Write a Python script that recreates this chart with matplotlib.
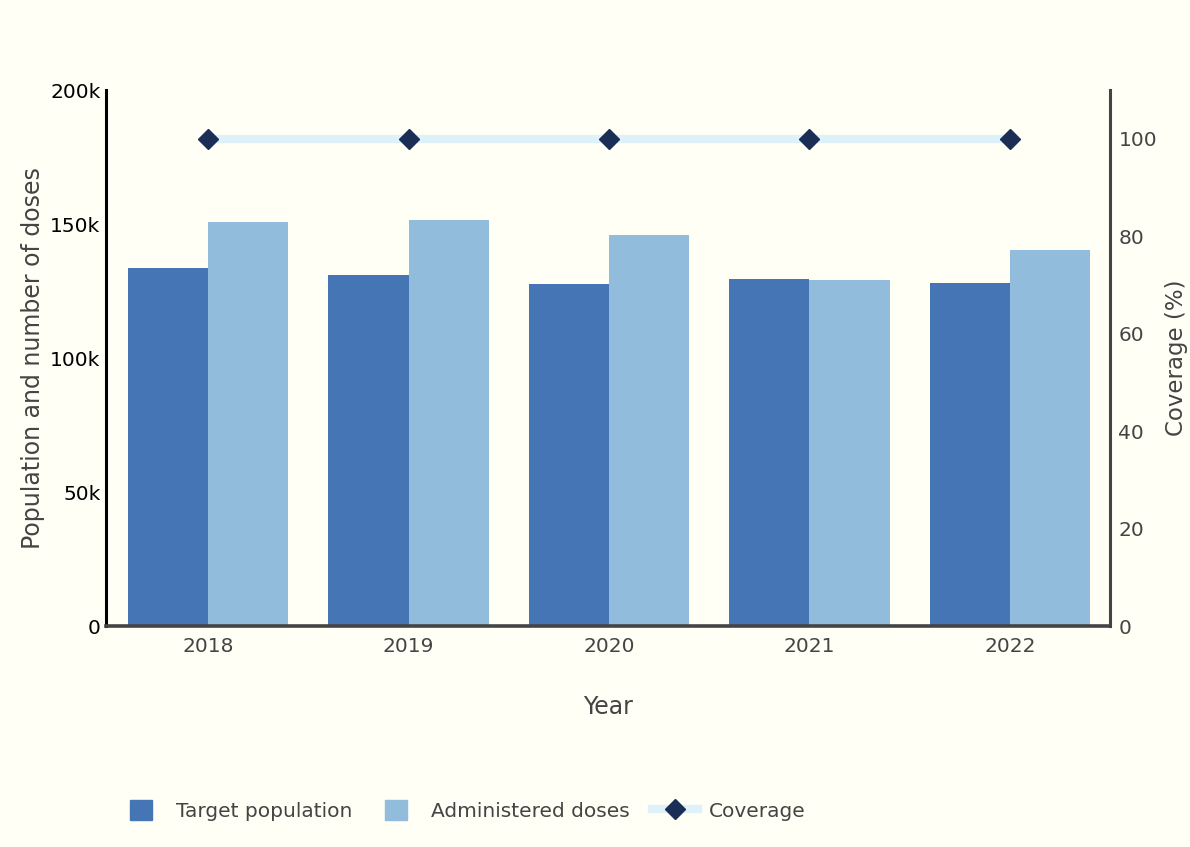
import matplotlib.pyplot as plt
import numpy as np
from matplotlib.legend_handler import HandlerLine2D
from matplotlib.lines import Line2D
from matplotlib.patches import Patch

years = ["2018", "2019", "2020", "2021", "2022"]
target_population = [133600, 131000, 127600, 129500, 128000]
administered_doses = [150700, 151500, 145900, 129100, 140300]
coverage = [100, 100, 100, 100, 100]

BG = "#fffff6"
C_TARGET = "#4575b4"
C_DOSES = "#91bcdc"
C_LINE = "#def1f9"
C_MARK = "#1b2f56"
GREY = "#444444"


class WideLineHandler(HandlerLine2D):
    """Draws the line handle wider than the square patch handles."""

    def create_artists(self, legend, orig_handle, xdescent, ydescent,
                       width, height, fontsize, trans):
        extra_l = 0.45 * width
        extra_r = 0.6 * width
        return super().create_artists(legend, orig_handle, xdescent + extra_l,
                                      ydescent, width + extra_l + extra_r,
                                      height, fontsize, trans)


plt.rcParams["font.family"] = ["DejaVu Sans"]

fig = plt.figure(figsize=(11.9, 8.47), dpi=100, facecolor=BG)
ax = fig.add_axes([0.0891, 0.2609, 0.8437, 0.6328])
ax.set_facecolor(BG)

x = np.arange(len(years))
w = 0.4
ax.bar(x - w / 2, target_population, width=w, color=C_TARGET, zorder=2)
ax.bar(x + w / 2, administered_doses, width=w, color=C_DOSES, zorder=2)

ax.set_xlim(-0.51, 4.5)
ax.set_ylim(0, 200000)
ax.set_yticks([0, 50000, 100000, 150000, 200000])
ax.set_yticklabels(["0", "50k", "100k", "150k", "200k"])
ax.set_xticks(x)
ax.set_xticklabels(years)
ax.tick_params(axis="y", length=0, pad=4, labelsize=14.5, labelcolor="black")
ax.tick_params(axis="x", length=0, pad=8, labelsize=14.5, labelcolor=GREY)

for side in ["top", "right"]:
    ax.spines[side].set_visible(False)
ax.spines["left"].set_color("black")
ax.spines["left"].set_linewidth(2.2)
ax.spines["bottom"].set_color(GREY)
ax.spines["bottom"].set_linewidth(2.6)
ax.spines["bottom"].set_zorder(5)

ax.set_xlabel("Year", fontsize=17, color=GREY, labelpad=28)
ax.set_ylabel("Population and number of doses", fontsize=17, color=GREY, labelpad=4)

# coverage on a secondary axis
ax2 = ax.twinx()
ax2.plot(x, coverage, color=C_LINE, linewidth=6, solid_capstyle="butt", zorder=3)
ax2.plot(x, coverage, linestyle="none", marker="D", markersize=10, color=C_MARK, zorder=4)
ax2.set_ylim(0, 110)
ax2.set_yticks([0, 20, 40, 60, 80, 100])
ax2.tick_params(axis="y", length=0, pad=6, labelsize=14.5, labelcolor=GREY)
for side in ["top", "left", "bottom"]:
    ax2.spines[side].set_visible(False)
ax2.spines["right"].set_color(GREY)
ax2.spines["right"].set_linewidth(2.2)
ax2.set_ylabel("Coverage (%)", fontsize=16.5, color=GREY, labelpad=6)

cov_handle = Line2D([0], [0], color=C_LINE, linewidth=6, marker="D", markersize=10,
                    markerfacecolor=C_MARK, markeredgecolor=C_MARK)
handles = [Patch(color=C_TARGET), Patch(color=C_DOSES), cov_handle]
fig.legend(handles, ["Target population", "Administered doses", "Coverage"],
           loc="center left", bbox_to_anchor=(0.094, 0.043), ncol=3, frameon=False,
           fontsize=14.5, labelcolor=GREY, handlelength=1.1, handleheight=1.1,
           columnspacing=1.6, handletextpad=1.2,
           handler_map={cov_handle: WideLineHandler()})

fig.savefig("out.png", dpi=100, facecolor=BG)
